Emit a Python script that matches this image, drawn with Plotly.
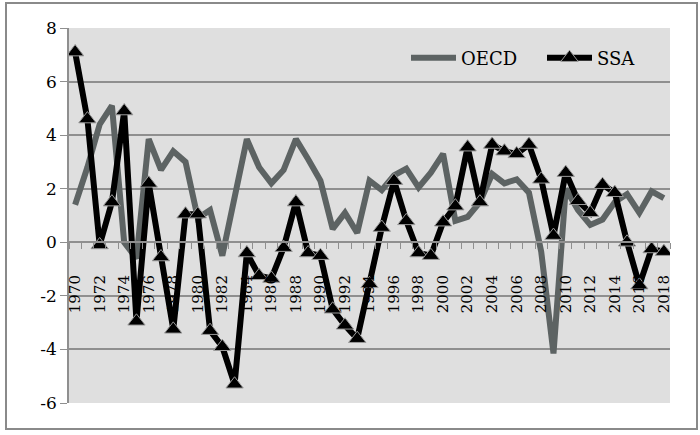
import plotly.graph_objects as go

years = list(range(1970, 2019))
oecd = [1.4, 2.8, 4.4, 5.1, 0.0, -0.6, 3.85, 2.7, 3.4, 3.0, 0.9, 1.2, -0.5,
        1.8, 3.85, 2.8, 2.2, 2.7, 3.85, 3.1, 2.3, 0.5, 1.1, 0.35, 2.3,
        1.95, 2.5, 2.75, 2.05, 2.6, 3.3, 0.8, 0.95, 1.5, 2.55,
        2.2, 2.35, 1.85, -0.35, -4.15, 2.0, 1.2, 0.65, 0.85, 1.5,
        1.8, 1.1, 1.9, 1.65]
ssa = [7.1, 4.6, -0.1, 1.5, 4.9, -2.95, 2.2, -0.55, -3.25, 1.05, 1.05, -3.3, -3.9,
       -5.3, -0.4, -1.25, -1.35, -0.2, 1.5, -0.4, -0.5, -2.5, -3.1, -3.6, -1.55,
       0.55, 2.3, 0.8, -0.4, -0.5, 0.75, 1.35, 3.55, 1.5, 3.65,
       3.4, 3.3, 3.65, 2.35, 0.25, 2.6, 1.55, 1.1, 2.15, 1.85,
       0.0, -1.6, -0.25, -0.35]
label_years = list(range(1970, 2019, 2))
y_ticks = [-6, -4, -2, 0, 2, 4, 6, 8]

font_family = "DejaVu Serif"
grid_col = "#8f8f8f"

fig = go.Figure()
fig.add_trace(go.Scatter(
    x=years, y=oecd, name="OECD", mode="lines",
    line=dict(color="#5d6363", width=6),
))
fig.add_trace(go.Scatter(
    x=years, y=ssa, name="SSA", mode="lines+markers",
    line=dict(color="#000000", width=6),
    marker=dict(symbol="triangle-up", size=15, color="#000000",
                line=dict(color="#9a9a9a", width=1)),
))

W, H = 700, 435
ml, mr, mt, mb = 69, 30, 28, 32
pw, ph = W - ml - mr, H - mt - mb

def px_x(v):
    return (v - ml) / pw

def px_y(v):
    return (H - mb - v) / ph

fig.update_layout(
    width=W, height=H,
    margin=dict(l=ml, r=mr, t=mt, b=mb, pad=0, autoexpand=False),
    paper_bgcolor="white",
    plot_bgcolor="#dfdfdf",
    font=dict(family=font_family, size=16, color="black"),
    showlegend=True,
    legend=dict(
        orientation="h", x=px_x(406), y=px_y(58), xanchor="left", yanchor="middle",
        bgcolor="rgba(0,0,0,0)", font=dict(size=18, family=font_family),
        itemwidth=45, tracegroupgap=0, entrywidth=76,
    ),
    xaxis=dict(
        range=[1969.5, 2018.5],
        anchor="free", position=6 / 14,
        tickmode="array", tickvals=label_years,
        ticktext=[str(y) for y in label_years],
        tickangle=-90, ticks="outside", ticklen=8, tickcolor="rgba(0,0,0,0)",
        ticklabelstandoff=18,
        tickfont=dict(size=15, family=font_family),
        showgrid=False, zeroline=False,
        showline=True, linecolor=grid_col, linewidth=1.5,
        minor=dict(ticks="outside", ticklen=6, tickcolor=grid_col,
                   tickwidth=1, tick0=1969.5, dtick=1, showgrid=False),
    ),
    yaxis=dict(
        range=[-6, 8], tickmode="array", tickvals=y_ticks,
        ticktext=[str(v) for v in y_ticks],
        showgrid=True, gridcolor=grid_col, gridwidth=1.5,
        zeroline=False,
        showline=True, linecolor=grid_col, linewidth=1.5,
        ticks="outside", ticklen=7, tickcolor=grid_col,
        tickfont=dict(size=17, family=font_family),
    ),
    shapes=[dict(
        type="rect", xref="paper", yref="paper",
        x0=px_x(6), x1=px_x(697), y0=px_y(429), y1=px_y(3),
        line=dict(color="#8a8a8a", width=2), fillcolor="rgba(0,0,0,0)",
        layer="below",
    )],
)

fig.write_html("out.html")
